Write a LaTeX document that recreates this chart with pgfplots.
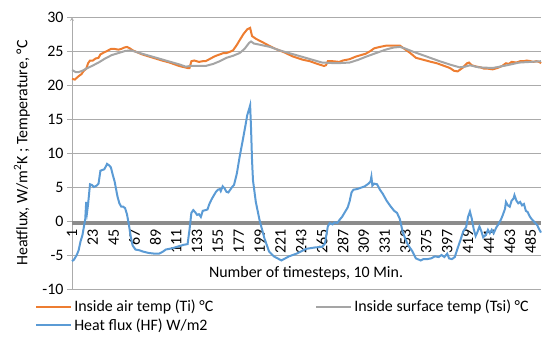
\documentclass[border=0pt]{standalone}
\usepackage{pgfplots}
\pgfplotsset{compat=1.18}
\usepackage{fontspec}
\setmainfont{Carlito}
\definecolor{tiorange}{HTML}{ED7D31}
\definecolor{tsigray}{HTML}{A5A5A5}
\definecolor{hfblue}{HTML}{5B9BD5}
\definecolor{gridgray}{HTML}{ABABAB}
\definecolor{bandgray}{HTML}{8C8C8C}
\newcommand{\fs}{\fontsize{16}{19}\selectfont}
\begin{document}
\begin{tikzpicture}
\useasboundingbox (-72bp,-56bp) rectangle (471bp,289bp);
\begin{axis}[
  at={(0,0)}, anchor=south west,
  scale only axis, width=469bp, height=272bp,
  xmin=1, xmax=496, ymin=-10, ymax=30,
  ytick={-10,-5,...,30},
  xtick={1,23,...,485},
  axis x line=middle, axis y line=left,
  hide obscured x ticks=false, hide obscured y ticks=false,
  x axis line style={draw=none},
  y axis line style={draw=gridgray, line width=0.8bp},
  ymajorgrids, grid style={draw=gridgray, line width=0.8bp},
  ytick style={draw=gridgray, line width=0.8bp},
  xtick style={draw=none},
  tick align=outside, major tick length=5bp,
  /pgf/number format/assume math mode=true,
  font=\fs,
  tick label style={font=\fs, text=black},
  xticklabel style={rotate=90, anchor=east},
  every axis x label/.style={at={(rel axis cs:0.499,0.059)}, anchor=center, font=\fs},
  every axis y label/.style={at={(rel axis cs:-0.1066,0.5)}, rotate=90, anchor=center, font=\fs},
  xlabel={Number of timesteps, 10 Min.},
  ylabel={Heatflux, W/m\textsuperscript{2}K ; Temperature, °C},
  legend columns=2,
  legend cell align=left,
  legend style={at={(rel axis cs:-0.085,-0.025)}, anchor=north west, draw=none, fill=none, font=\fs,
    /tikz/every even column/.append style={column sep=100bp}, row sep=1.5bp},
  legend image code/.code={\draw[#1] (0bp,0bp) -- (35bp,0bp);},
  clip=false,
]
\addplot[draw=bandgray, line width=4.5bp, forget plot] coordinates {(1,-0.33) (496,-0.33)};
\addplot[tiorange, line width=2bp] coordinates {
(1,20.9)(4,20.8)(8,21.3)(11,21.6)(13,22.0)(16,22.4)(18,23.2)(20,23.6)(23,23.6)(26,23.9)
(29,24.0)(31,24.5)(35,24.8)(38,25.0)(42,25.3)(46,25.3)(50,25.2)(53,25.3)(56,25.5)(59,25.6)
(62,25.4)(65,25.1)(70,24.8)(75,24.5)(82,24.2)(89,23.9)(96,23.6)(104,23.3)(114,22.8)(123,22.5)
(125,22.5)(127,23.5)(130,23.6)(135,23.4)(139,23.5)(142,23.5)(146,23.8)(150,24.1)(153,24.3)(157,24.5)
(161,24.7)(164,24.7)(168,24.9)(171,25.1)(175,25.9)(178,26.6)(182,27.5)(186,28.2)(189,28.4)(191,27.2)
(195,26.8)(202,26.3)(210,25.7)(216,25.3)(225,24.8)(234,24.2)(245,23.7)(252,23.5)(260,23.1)(267,22.8)
(269,22.9)(271,23.5)(276,23.5)(283,23.4)(287,23.6)(294,23.8)(301,24.2)(306,24.4)(311,24.6)(316,25.0)
(320,25.4)(326,25.6)(333,25.8)(340,25.8)(347,25.8)(350,25.5)(354,25.1)(358,24.7)(364,24.0)(372,23.7)
(380,23.4)(386,23.2)(392,22.9)(398,22.6)(401,22.4)(404,22.1)(408,22.0)(410,22.2)(413,22.5)(418,23.2)
(420,23.3)(423,22.9)(428,22.7)(432,22.6)(436,22.4)(440,22.4)(445,22.3)(450,22.5)(455,22.8)(459,23.2)
(462,23.1)(465,23.4)(470,23.3)(474,23.5)(478,23.5)(481,23.6)(485,23.5)(488,23.4)(491,23.5)(494,23.4)(496,23.2)
};
\addlegendentry{Inside air temp (Ti) °C}
\addplot[tsigray, line width=2bp] coordinates {
(1,22.2)(5,21.9)(8,21.9)(12,22.1)(16,22.4)(22,22.8)(29,23.3)(36,23.9)(43,24.4)(50,24.7)
(57,25.0)(63,25.1)(68,24.9)(75,24.6)(90,24.0)(105,23.4)(115,23.0)(121,22.7)(126,22.8)(135,22.8)
(142,22.8)(150,23.1)(157,23.5)(164,24.0)(171,24.3)(178,24.7)(183,25.3)(188,26.2)(190,26.4)(193,26.1)
(200,25.9)(210,25.6)(220,25.1)(235,24.5)(250,23.9)(265,23.3)(280,23.2)(294,23.3)(303,23.7)(312,24.2)
(322,24.7)(332,25.2)(340,25.5)(347,25.6)(352,25.4)(361,24.9)(375,24.2)(389,23.5)(400,23.0)(410,22.6)
(416,22.7)(421,22.9)(430,22.6)(445,22.5)(460,22.9)(473,23.3)(485,23.4)(496,23.5)
};
\addlegendentry{Inside surface temp (Tsi) °C}
\addplot[hfblue, line width=2bp] coordinates {
(1,-5.9)(3,-5.7)(6,-5.0)(8,-4.3)(10,-3.0)(12,-2.1)(14,-0.5)(15,0.3)(16,2.8)(17,1.4)
(18,2.5)(20,5.4)(22,5.3)(24,5.0)(27,5.2)(29,5.5)(31,7.4)(33,7.5)(35,7.6)(37,8.1)
(38,8.4)(40,8.2)(42,7.9)(44,6.8)(46,5.8)(49,3.6)(51,2.6)(53,2.1)(55,2.1)(57,1.9)
(59,1.0)(61,-0.5)(63,-2.3)(65,-3.6)(68,-4.2)(72,-4.3)(76,-4.5)(82,-4.7)(88,-4.8)(93,-4.8)
(97,-4.5)(100,-4.2)(107,-4.0)(114,-3.7)(119,-3.5)(123,-3.4)(125,-1.3)(127,1.2)(129,1.6)(131,1.3)
(133,0.9)(135,1.0)(137,0.6)(139,1.5)(142,1.6)(144,1.7)(146,2.5)(148,3.1)(150,3.6)(153,4.3)
(155,4.6)(157,4.7)(158,4.4)(160,5.1)(162,4.8)(164,4.3)(166,4.2)(168,4.6)(170,5.0)(172,5.3)
(175,7.0)(178,9.5)(181,11.7)(184,14.0)(186,15.6)(188,16.5)(189,17.0)(190,13.5)(191,9.0)(192,6.0)
(195,2.8)(199,0.1)(204,-2.5)(209,-4.5)(214,-5.2)(218,-5.5)(222,-5.8)(226,-5.5)(230,-5.2)(238,-4.8)
(248,-4.1)(257,-3.9)(265,-3.8)(268,-3.3)(271,-0.8)(273,-0.3)(276,-0.5)(278,-0.2)(281,-0.3)(283,0.1)
(286,0.6)(289,1.3)(292,2.0)(294,2.9)(296,4.2)(298,4.6)(302,4.7)(306,4.9)(310,5.1)(314,5.5)
(316,5.8)(317,6.5)(318,5.2)(320,5.5)(323,5.4)(326,4.6)(329,4.0)(333,3.0)(337,2.2)(341,1.5)
(344,1.2)(347,0.3)(350,-1.6)(353,-2.7)(356,-3.6)(360,-4.4)(364,-5.5)(369,-5.8)(372,-5.6)(376,-5.6)
(380,-5.5)(384,-5.2)(388,-5.3)(391,-5.0)(394,-5.3)(397,-4.8)(399,-5.5)(402,-5.6)(405,-5.3)(408,-4.0)
(411,-2.8)(414,-1.5)(417,-0.9)(419,0.6)(421,1.4)(423,0.3)(425,-1.2)(427,-2.2)(429,-1.6)(431,-0.8)
(433,-1.5)(435,-2.4)(438,-2.0)(440,-1.3)(442,-1.8)(444,-1.3)(446,-1.8)(449,-0.9)(451,-0.5)(454,0.3)
(456,1.0)(458,1.8)(459,2.8)(461,2.3)(463,2.1)(465,3.0)(467,3.3)(468,3.8)(470,3.0)(472,2.6)
(474,2.8)(476,2.3)(478,2.5)(480,1.5)(482,1.3)(484,0.7)(486,0.3)(488,0.0)(490,-0.3)(492,-0.6)
(494,-1.2)(496,-1.7)
};
\addlegendentry{Heat flux (HF) W/m2}
\end{axis}
\end{tikzpicture}
\end{document}
